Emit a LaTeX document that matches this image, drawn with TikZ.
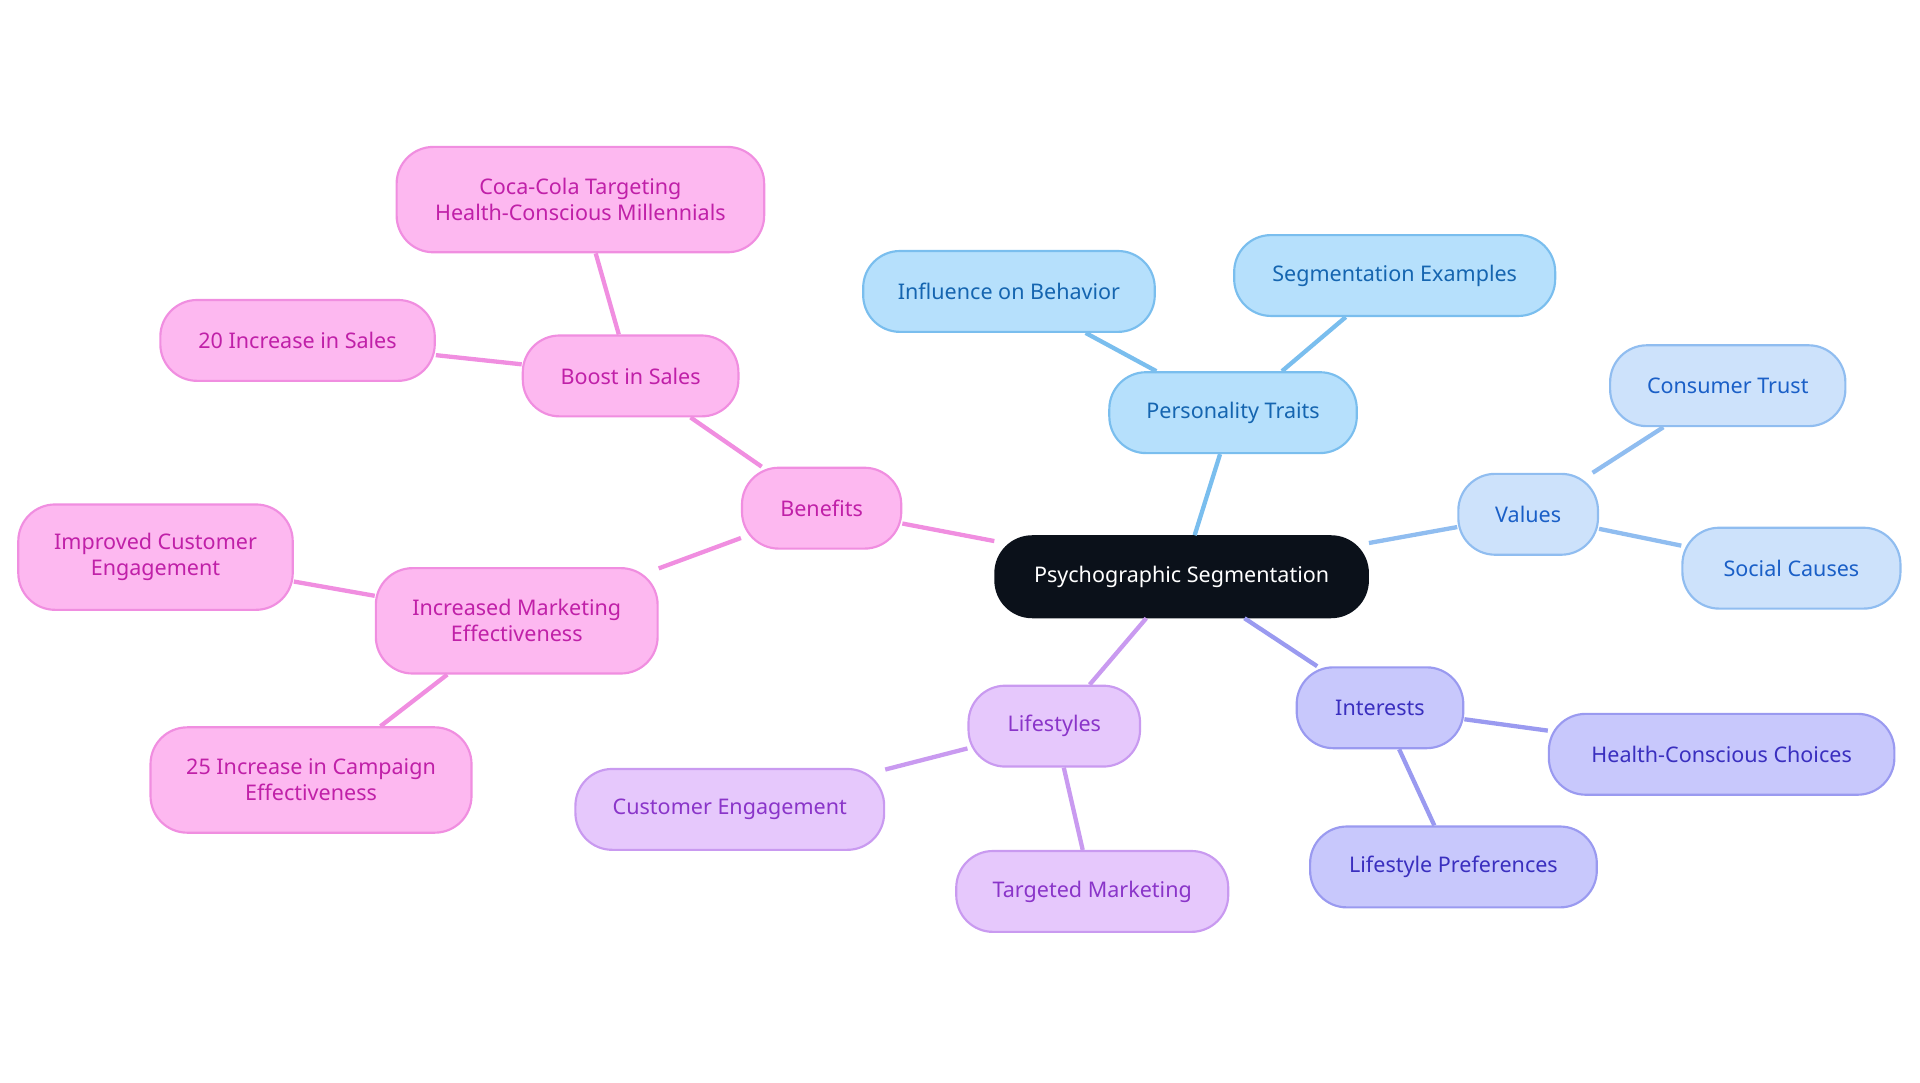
\documentclass[tikz,border=0pt]{standalone}
\usepackage{fontspec}
\setmainfont{Noto Sans}
\begin{document}
\begin{tikzpicture}[x=0.01cm,y=-0.01cm,
  base/.style={rounded corners=0.3cm,draw,line width=0.5pt,align=center,font=\fontsize{5}{6}\selectfont,minimum height=0.66cm,inner sep=1pt},
  root/.style={base,fill={rgb,255:red,11;green,17;blue,26},draw={rgb,255:red,11;green,17;blue,26},text=white},
  pt/.style={base,fill={rgb,255:red,182;green,224;blue,252},draw={rgb,255:red,122;green,190;blue,238},text={rgb,255:red,21;green,101;blue,176}},
  va/.style={base,fill={rgb,255:red,205;green,226;blue,251},draw={rgb,255:red,144;green,189;blue,240},text={rgb,255:red,26;green,95;blue,199}},
  itr/.style={base,fill={rgb,255:red,200;green,200;blue,252},draw={rgb,255:red,154;green,154;blue,240},text={rgb,255:red,58;green,47;blue,191}},
  li/.style={base,fill={rgb,255:red,230;green,200;blue,252},draw={rgb,255:red,201;green,154;blue,240},text={rgb,255:red,138;green,53;blue,201}},
  be/.style={base,fill={rgb,255:red,253;green,184;blue,240},draw={rgb,255:red,240;green,142;blue,224},text={rgb,255:red,192;green,32;blue,168}},
  e/.style={line width=1pt}]
\useasboundingbox (0,0) rectangle (1568,884);
\node[root,minimum width=3.04cm] (r) at (965,471) {Psychographic Segmentation};
\node[pt,minimum width=2.02cm] (p) at (1007,337) {Personality Traits};
\node[pt,minimum width=2.38cm] (p1) at (824,238) {Influence on Behavior};
\node[pt,minimum width=2.62cm] (p2) at (1139,225) {Segmentation Examples};
\node[va,minimum width=1.14cm] (v) at (1248,420) {Values};
\node[va,minimum width=1.92cm] (v1) at (1411,315) {Consumer Trust};
\node[va,minimum width=1.78cm] (v2) at (1463,464) {Social Causes};
\node[itr,minimum width=1.36cm] (i) at (1127,578) {Interests};
\node[itr,minimum width=2.82cm] (i1) at (1406,616) {Health-Conscious Choices};
\node[itr,minimum width=2.34cm] (i2) at (1187,708) {Lifestyle Preferences};
\node[li,minimum width=1.40cm] (l) at (861,593) {Lifestyles};
\node[li,minimum width=2.52cm] (l1) at (596,661) {Customer Engagement};
\node[li,minimum width=2.22cm] (l2) at (892,728) {Targeted Marketing};
\node[be,minimum width=1.30cm] (b) at (671,415) {Benefits};
\node[be,minimum width=1.76cm] (b1) at (515,307) {Boost in Sales};
\node[be,minimum width=2.24cm] (b11) at (243,278) {20 Increase in Sales};
\node[be,minimum width=3.00cm,minimum height=0.86cm] (b12) at (474,163) {Coca-Cola Targeting\\Health-Conscious Millennials};
\node[be,minimum width=2.30cm,minimum height=0.86cm] (b2) at (422,507) {Increased Marketing\\Effectiveness};
\node[be,minimum width=2.24cm,minimum height=0.86cm] (b21) at (127,455) {Improved Customer\\Engagement};
\node[be,minimum width=2.62cm,minimum height=0.86cm] (b22) at (254,637) {25 Increase in Campaign\\Effectiveness};
\draw[e,draw={rgb,255:red,122;green,190;blue,238}] (r) -- (p) (p) -- (p1) (p) -- (p2);
\draw[e,draw={rgb,255:red,144;green,189;blue,240}] (r) -- (v) (v) -- (v1) (v) -- (v2);
\draw[e,draw={rgb,255:red,154;green,154;blue,240}] (r) -- (i) (i) -- (i1) (i) -- (i2);
\draw[e,draw={rgb,255:red,201;green,154;blue,240}] (r) -- (l) (l) -- (l1) (l) -- (l2);
\draw[e,draw={rgb,255:red,240;green,142;blue,224}] (r) -- (b) (b) -- (b1) (b1) -- (b11) (b1) -- (b12) (b) -- (b2) (b2) -- (b21) (b2) -- (b22);
\end{tikzpicture}
\end{document}
